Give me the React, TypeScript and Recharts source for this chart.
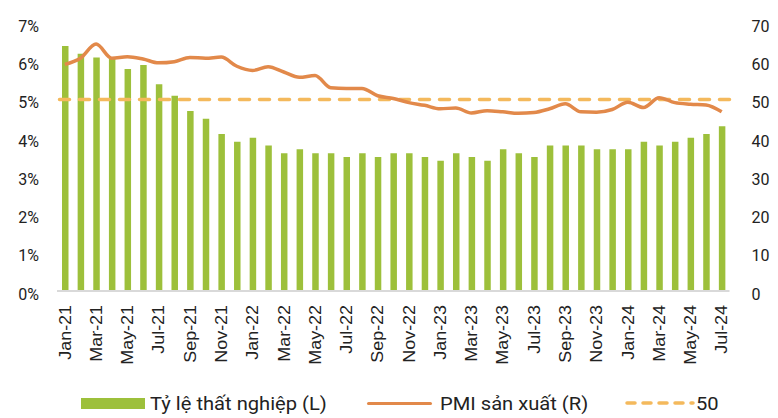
import React from "react";
import {
  ComposedChart,
  Bar,
  Line,
  XAxis,
  YAxis,
  ReferenceLine,
  Legend,
} from "recharts";

const months = [
  "Jan-21", "Feb-21", "Mar-21", "Apr-21", "May-21", "Jun-21", "Jul-21", "Aug-21", "Sep-21", "Oct-21", "Nov-21", "Dec-21",
  "Jan-22", "Feb-22", "Mar-22", "Apr-22", "May-22", "Jun-22", "Jul-22", "Aug-22", "Sep-22", "Oct-22", "Nov-22", "Dec-22",
  "Jan-23", "Feb-23", "Mar-23", "Apr-23", "May-23", "Jun-23", "Jul-23", "Aug-23", "Sep-23", "Oct-23", "Nov-23", "Dec-23",
  "Jan-24", "Feb-24", "Mar-24", "Apr-24", "May-24", "Jun-24", "Jul-24",
];

// Tỷ lệ thất nghiệp (%), trục trái
const unemployment = [
  6.4, 6.2, 6.1, 6.1, 5.8, 5.9, 5.4, 5.1, 4.7, 4.5, 4.1, 3.9,
  4.0, 3.8, 3.6, 3.7, 3.6, 3.6, 3.5, 3.6, 3.5, 3.6, 3.6, 3.5,
  3.4, 3.6, 3.5, 3.4, 3.7, 3.6, 3.5, 3.8, 3.8, 3.8, 3.7, 3.7,
  3.7, 3.9, 3.8, 3.9, 4.0, 4.1, 4.3,
];

// PMI sản xuất, trục phải
const pmi = [
  59.2, 60.8, 64.5, 60.8, 61.2, 60.6, 59.6, 59.9, 61.0, 60.8, 61.1, 58.7,
  57.6, 58.6, 57.2, 55.8, 56.3, 53.1, 52.9, 52.9, 51.0, 50.3, 49.2, 48.5,
  47.6, 47.8, 46.5, 47.1, 46.8, 46.4, 46.6, 47.6, 48.9, 46.8, 46.7, 47.4,
  49.3, 47.9, 50.5, 49.2, 48.8, 48.6, 46.8,
];

const threshold = 50;
const leftTicks = [0, 1, 2, 3, 4, 5, 6, 7];
const rightTicks = [0, 10, 20, 30, 40, 50, 60, 70];

const data = months.map((m, i) => ({ month: m, rate: unemployment[i], pmi: pmi[i] }));

const GREEN = "#9DC03B";
const ORANGE = "#E2894A";
const YELLOW = "#F4B95C";

function MonthTick({ x, y, payload }: any) {
  return (
    <g transform={`translate(${x},${y})`}>
      <text
        transform="rotate(-90) scale(1.12,1)"
        x={-12.5}
        y={0}
        dy="0.36em"
        textAnchor="end"
        fontSize={16}
        fontFamily="'Liberation Sans', Arial, sans-serif"
        fill="#222"
      >
        {payload.value}
      </text>
    </g>
  );
}

// legend text is a bit wider than the font, stretch it like the source
function LegendText({ label, width }: { label: string; width: number }) {
  return (
    <div style={{ width, overflow: "visible", whiteSpace: "nowrap" }}>
      <span
        style={{
          display: "inline-block",
          fontSize: 19,
          fontFamily: "Roboto, sans-serif",
          color: "#222",
          transform: "scale(1.06,1)",
          transformOrigin: "left center",
        }}
      >
        {label}
      </span>
    </div>
  );
}

function ChartLegend() {
  return (
    <div style={{ display: "flex", alignItems: "center", height: 30, paddingLeft: 81 }}>
      <div style={{ width: 64, height: 11, background: GREEN, marginRight: 5 }} />
      <LegendText label="Tỷ lệ thất nghiệp (L)" width={217} />
      <div style={{ width: 65, height: 3, background: ORANGE, marginRight: 8, borderRadius: 2 }} />
      <LegendText label="PMI sản xuất (R)" width={185} />
      <svg width={70} height={6} style={{ marginRight: 1 }}>
        <line x1={2} y1={3} x2={68} y2={3} stroke={YELLOW} strokeWidth={3.5} strokeDasharray="8 8" strokeLinecap="round" />
      </svg>
      <LegendText label="50" width={30} />
    </div>
  );
}

export default function App() {
  const tickStyle = { fontSize: 16, fill: "#222", fontFamily: "Roboto, sans-serif" };
  return (
    <div style={{ position: "absolute", left: 0, top: 0, width: 778, height: 418, background: "#fff" }}>
      <ComposedChart
        width={778}
        height={418}
        data={data}
        barCategoryGap={0}
        margin={{ top: 23, right: 0, bottom: 0, left: 0 }}
      >
        <XAxis
          dataKey="month"
          interval={1}
          tick={<MonthTick />}
          tickLine={false}
          tickSize={0}
          tickMargin={0}
          height={97}
          axisLine={{ stroke: "#D9D9D9", strokeWidth: 2 }}
        />
        <YAxis
          yAxisId="left"
          domain={[0, 7]}
          ticks={leftTicks}
          tickFormatter={(v: number) => `${v}%`}
          width={57}
          axisLine={false}
          tickLine={false}
          tickSize={0}
          tickMargin={18}
          tick={{ ...tickStyle, dy: 3 }}
        />
        <YAxis
          yAxisId="right"
          orientation="right"
          domain={[0, 70]}
          ticks={rightTicks}
          width={48.5}
          axisLine={false}
          tickLine={false}
          tickSize={0}
          tickMargin={22}
          tick={{ ...tickStyle, dy: 3 }}
        />
        <Bar yAxisId="left" dataKey="rate" fill={GREEN} barSize={6.5} isAnimationActive={false} />
        <ReferenceLine
          yAxisId="right"
          y={threshold}
          stroke={YELLOW}
          strokeWidth={3.5}
          strokeDasharray="10 10"
          strokeLinecap="round"
        />
        <Line
          yAxisId="right"
          dataKey="pmi"
          type="monotone"
          stroke={ORANGE}
          strokeWidth={3.5}
          dot={false}
          isAnimationActive={false}
        />
        <Legend verticalAlign="bottom" height={30} content={() => <ChartLegend />} />
      </ComposedChart>
    </div>
  );
}
